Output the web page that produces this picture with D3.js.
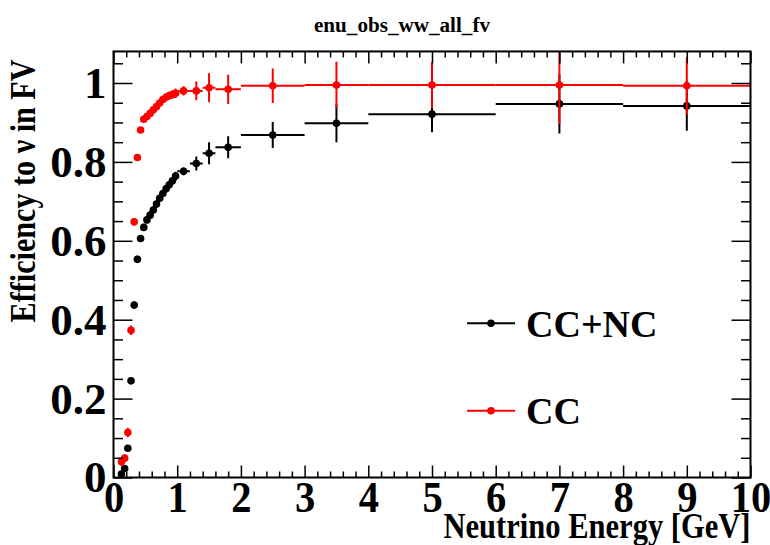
<!DOCTYPE html>
<html>
<head>
<meta charset="utf-8">
<script src="https://cdn.jsdelivr.net/npm/d3@7"></script>
<style>
  body { margin: 0; background: #fff; }
  svg text { font-family: "Liberation Serif", "Times New Roman", serif; font-weight: bold; }
</style>
</head>
<body>
<svg id="chart" width="770" height="545"></svg>
<script>
// bin edges in GeV (variable binning)
const binEdges = [0.1, 0.15, 0.2, 0.25, 0.3, 0.35, 0.4, 0.45, 0.5, 0.55, 0.6, 0.65, 0.7,
  0.75, 0.8, 0.85, 0.9, 0.95, 1.0, 1.2, 1.4, 1.6, 2.0, 3, 4, 6, 8, 10];

// CC+NC efficiency
const allEff = [0.009, 0.023, 0.074, 0.245, 0.437, 0.553, 0.606, 0.634, 0.653, 0.665, 0.678,
  0.693, 0.708, 0.720, 0.732, 0.742, 0.752, 0.764, 0.776, 0.796, 0.822, 0.837, 0.868, 0.898,
  0.921, 0.947, 0.942];
const allErr = [0.004, 0.005, 0.006, 0.008, 0.009, 0.009, 0.009, 0.009, 0.009, 0.009, 0.009,
  0.009, 0.009, 0.009, 0.010, 0.010, 0.010, 0.011, 0.010, 0.018, 0.028, 0.028, 0.033, 0.048,
  0.046, 0.075, 0.063];

// CC efficiency
const ccEff = [0.040, 0.049, 0.114, 0.373, 0.648, 0.811, 0.881, 0.908, 0.915, 0.923, 0.932,
  0.940, 0.949, 0.958, 0.964, 0.968, 0.971, 0.974, 0.980, 0.980, 0.988, 0.984, 0.993, 0.995,
  0.995, 0.995, 0.993];
const ccErr = [0.010, 0.010, 0.012, 0.012, 0.010, 0.008, 0.006, 0.005, 0.005, 0.005, 0.006,
  0.006, 0.007, 0.008, 0.009, 0.010, 0.011, 0.012, 0.012, 0.024, 0.037, 0.037, 0.044, 0.059,
  0.059, 0.099, 0.073];

const xTicks = [0, 1, 2, 3, 4, 5, 6, 7, 8, 9, 10];
const yTicks = [0, 0.2, 0.4, 0.6, 0.8, 1];
const legendLabels = ["CC+NC", "CC"];

const svg = d3.select("#chart");
const plotL = 113.5, plotR = 750.5, plotB = 477.5;
const x = d3.scaleLinear([0, 10], [plotL, plotR]);
const y = d3.scaleLinear([0, 1.08], [plotB, plotB - 1.08 * 394.5]);
const plotT = y(1.08);

svg.append("clipPath").attr("id", "frame")
  .append("rect").attr("x", plotL).attr("y", plotT)
  .attr("width", plotR - plotL).attr("height", plotB - plotT);

function makeBins(eff, err) {
  return eff.map((v, i) => ({
    lo: binEdges[i], hi: binEdges[i + 1],
    c: (binEdges[i] + binEdges[i + 1]) / 2, v, e: err[i]
  }));
}

function drawSeries(bins, color) {
  const g = svg.append("g").attr("clip-path", "url(#frame)")
    .attr("stroke", color).attr("stroke-width", 2);
  g.selectAll("line.h").data(bins).join("line").attr("class", "h")
    .attr("x1", d => x(d.lo)).attr("x2", d => x(d.hi))
    .attr("y1", d => y(d.v)).attr("y2", d => y(d.v));
  g.selectAll("line.v").data(bins).join("line").attr("class", "v")
    .attr("x1", d => x(d.c)).attr("x2", d => x(d.c))
    .attr("y1", d => y(d.v - d.e)).attr("y2", d => y(d.v + d.e));
  g.selectAll("circle").data(bins).join("circle")
    .attr("cx", d => x(d.c)).attr("cy", d => y(d.v))
    .attr("r", 3.8).attr("fill", color).attr("stroke", "none");
}

drawSeries(makeBins(allEff, allErr), "#000");
drawSeries(makeBins(ccEff, ccErr), "#ff0000");

// axes, ROOT style: ticks inside on all four sides
function styleAxis(g) {
  g.select(".domain").remove();
  g.selectAll(".tick line").attr("stroke", "#000").attr("stroke-width", 1.5);
  g.selectAll(".tick text").attr("fill", "#000").attr("font-size", 45);
}
// the ROOT font is a bit narrower than Liberation Serif
function condense(g) {
  g.selectAll(".tick text").each(function () {
    const w = this.getComputedTextLength();
    d3.select(this).attr("textLength", w * 0.9).attr("lengthAdjust", "spacingAndGlyphs");
  });
}
const xMinor = x.ticks(50).filter(t => Math.abs(t - Math.round(t)) > 1e-6);
const yMinor = y.ticks(20).filter(t => Math.abs(t * 5 - Math.round(t * 5)) > 1e-6);

svg.append("g").attr("transform", `translate(0,${plotB})`)
  .call(d3.axisBottom(x).tickValues(xTicks).tickSize(-12).tickPadding(3).tickFormat(d3.format("d")))
  .call(styleAxis).call(condense);
svg.append("g").attr("transform", `translate(0,${plotB})`)
  .call(d3.axisBottom(x).tickValues(xMinor).tickSize(-6).tickFormat(""))
  .call(styleAxis);
svg.append("g").attr("transform", `translate(0,${plotT})`)
  .call(d3.axisTop(x).tickValues(xTicks).tickSize(-12).tickFormat(""))
  .call(styleAxis);
svg.append("g").attr("transform", `translate(0,${plotT})`)
  .call(d3.axisTop(x).tickValues(xMinor).tickSize(-6).tickFormat(""))
  .call(styleAxis);
svg.append("g").attr("transform", `translate(${plotL},0)`)
  .call(d3.axisLeft(y).tickValues(yTicks).tickSize(-19).tickPadding(7)
    .tickFormat(d => String(+d.toFixed(1))))
  .call(styleAxis);
svg.append("g").attr("transform", `translate(${plotL},0)`)
  .call(d3.axisLeft(y).tickValues(yMinor).tickSize(-9.5).tickFormat(""))
  .call(styleAxis);
svg.append("g").attr("transform", `translate(${plotR},0)`)
  .call(d3.axisRight(y).tickValues(yTicks).tickSize(-19).tickFormat(""))
  .call(styleAxis);
svg.append("g").attr("transform", `translate(${plotR},0)`)
  .call(d3.axisRight(y).tickValues(yMinor).tickSize(-9.5).tickFormat(""))
  .call(styleAxis);

svg.append("rect").attr("x", plotL).attr("y", plotT)
  .attr("width", plotR - plotL).attr("height", plotB - plotT)
  .attr("fill", "none").attr("stroke", "#000").attr("stroke-width", 2);

// titles
svg.append("text").attr("x", 402).attr("y", 32).attr("text-anchor", "middle")
  .attr("font-size", 20).attr("textLength", 176).attr("lengthAdjust", "spacingAndGlyphs")
  .text("enu_obs_ww_all_fv");
svg.append("text").attr("x", plotR).attr("y", 538).attr("text-anchor", "end")
  .attr("font-size", 35).attr("textLength", 307).attr("lengthAdjust", "spacingAndGlyphs")
  .text("Neutrino Energy [GeV]");
svg.append("text").attr("transform", `translate(35,${plotT + 8}) rotate(-90)`)
  .attr("text-anchor", "end").attr("font-size", 35)
  .attr("textLength", 263).attr("lengthAdjust", "spacingAndGlyphs")
  .text("Efficiency to ν in FV");

// legend
const legend = svg.append("g");
[["#000", 323.3], ["#ff0000", 410.7]].forEach(([color, ly], i) => {
  legend.append("line").attr("x1", 467).attr("x2", 515).attr("y1", ly).attr("y2", ly)
    .attr("stroke", color).attr("stroke-width", 2);
  legend.append("circle").attr("cx", 491).attr("cy", ly).attr("r", 3.8).attr("fill", color);
  legend.append("text").attr("x", 526).attr("y", ly + 13.5).attr("font-size", 38)
    .text(legendLabels[i]);
});
</script>
</body>
</html>
